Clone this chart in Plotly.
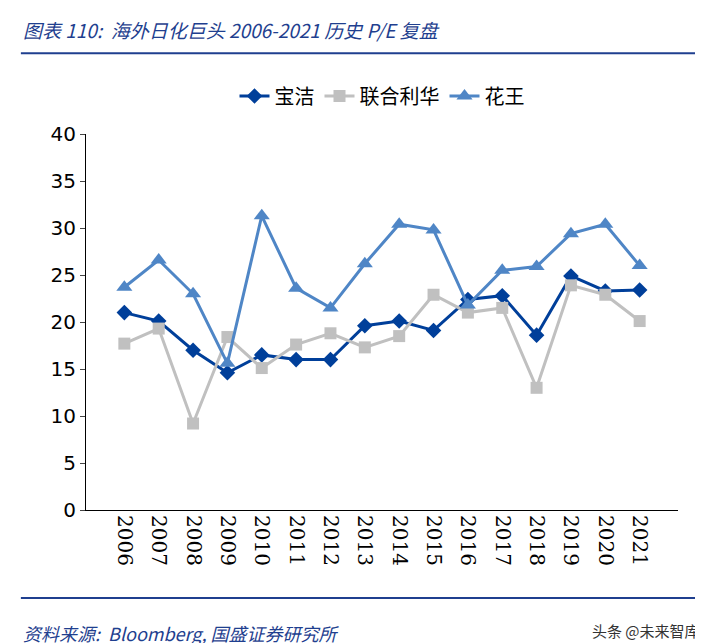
import plotly.graph_objects as go

years = [str(y) for y in range(2006, 2022)]
pg = [21.0,20.1,17.0,14.6,16.5,16.0,16.0,19.6,20.1,19.1,22.4,22.8,18.6,24.9,23.3,23.4]
unilever = [17.7,19.3,9.2,18.4,15.1,17.6,18.8,17.3,18.5,22.9,21.0,21.5,13.0,23.9,22.9,20.1]
kao = [23.7,26.6,23.0,15.6,31.3,23.6,21.5,26.2,30.4,29.8,21.8,25.5,25.9,29.4,30.4,26.0]

fig = go.Figure()
fig.add_trace(go.Scatter(x=years, y=pg, name="宝洁", mode="lines+markers",
    line=dict(color="#003f9a", width=3), marker=dict(symbol="diamond", size=12, color="#003f9a")))
fig.add_trace(go.Scatter(x=years, y=unilever, name="联合利华", mode="lines+markers",
    line=dict(color="#c0c0c0", width=3), marker=dict(symbol="square", size=12, color="#c0c0c0")))
fig.add_trace(go.Scatter(x=years, y=kao, name="花王", mode="lines+markers",
    line=dict(color="#4f86c6", width=3), marker=dict(symbol="triangle-up", size=14, color="#4f86c6")))

fig.update_layout(
    width=703, height=643, paper_bgcolor="white", plot_bgcolor="white",
    margin=dict(l=78, r=33, t=126, b=141),
    font=dict(family="DejaVu Sans", size=20, color="black"),
    legend=dict(orientation="h", x=0.5, xanchor="center", y=1.101, yanchor="middle",
                font=dict(size=20, family="Noto Sans CJK SC")),
    xaxis=dict(type="category", tickangle=90, showline=True, linecolor="black", linewidth=1,
               ticks="outside", ticklen=0, tickfont=dict(size=20, family="DejaVu Serif")),
    yaxis=dict(range=[0, 40], dtick=5, showline=True, linecolor="black", linewidth=1,
               ticks="outside", ticklen=5, showgrid=False, tickfont=dict(size=20)),
    showlegend=True,
)
fig.add_annotation(text="<i>图表 110:  海外日化巨头 2006-2021 历史 P/E 复盘</i>", xref="paper", yref="paper",
    x=-0.11, y=1.277, xanchor="left", yanchor="middle", showarrow=False,
    font=dict(size=19, color="#1f3f8f", family="Noto Sans CJK SC"))
fig.add_annotation(text="<i>资料来源:  Bloomberg, 国盛证券研究所</i>", xref="paper", yref="paper",
    x=-0.11, y=-0.327, xanchor="left", yanchor="middle", showarrow=False,
    font=dict(size=18, color="#1f3f8f", family="Noto Sans CJK SC"))
fig.add_annotation(text="头条 @未来智库", xref="paper", yref="paper",
    x=1.04, y=-0.32, xanchor="right", yanchor="middle", showarrow=False,
    font=dict(size=15, color="#333", family="Noto Sans CJK SC"))
fig.add_shape(type="line", xref="paper", yref="paper", x0=-0.11, x1=1.03, y0=1.215, y1=1.215,
    line=dict(color="#1f3f8f", width=2))
fig.add_shape(type="line", xref="paper", yref="paper", x0=-0.11, x1=1.03, y0=-0.234, y1=-0.234,
    line=dict(color="#1f3f8f", width=2))
fig.write_html("out.html")
